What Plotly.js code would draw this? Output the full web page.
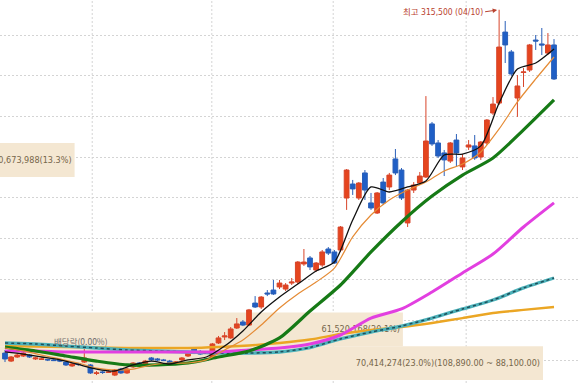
<!DOCTYPE html>
<html>
<head>
<meta charset="utf-8">
<script src="https://cdn.plot.ly/plotly-3.0.1.min.js"></script>
<style>html,body{margin:0;padding:0;background:#fff;}#chart{width:580px;height:383px;}</style>
</head>
<body>
<div id="chart"></div>
<script>
// trading-day sequence (x categories)
const day = [0,1,2,3,4,5,6,7,8,9,10,11,12,13,14,15,16,17,18,19,20,21,22,23,24,25,26,27,28,29,30,31,32,33,34,35,36,37,38,39,40,41,42,43,44,45,46,47,48,49,50,51,52,53,54,55,56,57,58,59,60,61,62,63,64,65,66,67,68,69,70,71,72,73,74,75,76,77,78,79,80,81,82,83,84,85,86,87,88,89,90];

const open = [104700,99800,102300,102900,103500,101100,100800,100800,100500,100500,
  99200,96800,98000,99200,97400,92200,93100,92800,91200,94900,
  92500,96200,98600,98000,101700,101100,100500,99800,98600,100500,
  102900,107200,105400,101100,101700,110900,114600,114000,120100,123800,
  121900,135400,133000,141600,143400,145300,144000,147700,148300,159400,
  163100,155700,158800,168600,166800,168000,199900,208500,199900,215300,
  196900,190700,209700,206700,223900,217100,184600,204800,209100,212800,
  245400,233700,227600,222600,235500,219000,231200,231900,225100,233700,
  252100,258200,301800,289600,261300,277000,278500,296900,294500,288900,
  293900];
const high = [106600,102900,104700,106600,104100,102300,101700,101100,101100,101100,
  99800,98600,98600,108400,98000,93700,93700,94300,94900,95500,
  95500,99200,99200,100500,102300,101700,101100,100500,99800,102300,
  106000,108400,106600,101700,110900,115200,117600,120700,126200,125000,
  131800,139700,139700,143400,149600,149600,147700,150800,161200,168600,
  164300,160600,168000,169800,168000,182700,217700,211000,209700,217100,
  203000,203600,212200,215300,230000,218300,205400,209700,215900,262500,
  246600,235500,229400,234300,239200,226900,235500,238600,234900,248400,
  261900,315500,308600,290800,275400,279700,294500,300000,304300,301200,
  297500];
const low = [99200,99200,101700,102300,101700,100500,100500,99800,99800,99200,
  96800,96200,96800,98600,91900,91200,91900,92500,90600,91900,
  91900,95500,96200,97400,99800,99800,99800,98000,98000,99800,
  102300,104100,103500,99800,101100,110300,112700,113400,119500,121300,
  121300,132400,131800,139700,140400,144000,142800,146500,147100,158200,
  155700,154500,157600,164900,159400,166800,192600,201800,198700,198700,
  192600,190100,195600,204800,214000,198700,182100,203000,207900,212200,
  231900,224500,213400,221400,219000,217100,229400,223300,223300,232500,
  250900,257000,282800,274800,249700,268100,277300,290800,287700,287700,
  272400];
const close = [101100,102300,103500,104700,102300,101700,101100,100500,100100,99800,
  97400,98000,97700,101700,92500,92500,92800,93100,94300,92500,
  94900,98600,96800,99800,100500,100500,100100,98600,99200,101700,
  104700,104700,104100,100500,110300,114000,115200,119500,122600,121900,
  131200,133000,139100,141000,141000,147700,146500,148300,160600,160600,
  157600,160000,166800,166100,160000,182100,217100,205500,209100,204800,
  193800,203000,196900,214000,215300,199900,204800,207900,213400,234900,
  233100,225700,223300,233700,227600,224500,232500,224500,234300,247800,
  257600,292600,293900,276100,268700,277300,293900,296300,293900,293900,
  273000];

// moving averages
const maShortDay = [0,3,6,9,12,15,18,21,24,27,30,33,36,39,42,45,48,51,54,57,60,63,66,69,72,75,78,81,84,87,90];
const ma5  = [105400,104100,102300,100500,97700,94900,93700,97400,99800,98000,100500,102300,109000,118300,129900,139100,147100,155100,160600,186400,206700,203600,206700,210400,226300,226900,231900,258200,279100,282800,291400];
const ma10 = [107800,106000,103500,101100,98600,95500,94300,94900,97400,98600,98600,100500,106600,112700,121900,132400,141000,148300,156900,176000,189500,198700,204800,209700,216500,220800,228200,242300,258900,273000,286500];
const maLongDay = [0,5,10,15,20,25,30,35,40,45,50,55,60,65,70,75,80,85,90];
const ma20  = [108400,106000,102900,99800,97400,97400,98600,102300,106000,114000,130500,146500,166800,185200,201100,214000,224500,241700,260100];
const ma60  = [106000,106000,105400,105400,105400,105400,105400,105400,106600,107800,110300,115800,126200,131800,142200,153900,165500,182100,196900];
const ma120 = [110900,110300,109000,107800,106600,106000,105400,104700,104700,105400,108100,113400,117600,121300,126200,131800,137300,144700,150800];
const ma240 = [109000,108700,108400,108100,107800,107800,107800,108400,109400,110900,113000,116400,118900,120700,123200,126200,129300,131200,133000];

// volume profile (price-by-volume) bins
const vpLow    = [88100, 108890, 212840];
const vpHigh   = [108890, 129680, 233630];
const vpVolume = [70414274, 61520168, 40673988];
const vpShare  = ['23.0', '20.1', '13.3'];

const peakLabel = '최고 315,500 (04/10)';
const exDivLabel = '배당락(0.00%)';

// vertical grid positions (between trading days)
const vGrid = [14.3, 33.9, 53.8, 75.6];

const fmt = v => v.toLocaleString('en-US');
const vpText = vpVolume.map((v, i) => fmt(v) + '(' + vpShare[i] + '%)' +
  (i === 0 ? '(' + fmt(vpHigh[i]) + '.00 ~ ' + fmt(vpLow[i]) + '.00)' : ''));

const narrow = '"Liberation Sans Narrow", "Arial Narrow", "DejaVu Sans Condensed", "Liberation Sans", "Noto Sans CJK KR", sans-serif';

const traces = [];
traces.push({
  type: 'bar', orientation: 'h', xaxis: 'x', yaxis: 'y',
  y: vpLow.map((l, i) => (l + vpHigh[i]) / 2),
  width: vpLow.map((l, i) => vpHigh[i] - l),
  x: vpVolume, base: 0,
  marker: {color: '#F4E7D2', line: {width: 0}},
  text: vpText, textposition: 'inside', insidetextanchor: 'end', textangle: 0,
  constraintext: 'none',
  insidetextfont: {family: narrow, size: 9, color: '#76664A'},
  hoverinfo: 'skip'
});
traces.push({
  type: 'candlestick', xaxis: 'x2', yaxis: 'y',
  x: day, open: open, high: high, low: low, close: close,
  increasing: {line: {color: '#D8452A', width: 1}, fillcolor: '#E5451E'},
  decreasing: {line: {color: '#2A5FB8', width: 1}, fillcolor: '#1F5FC6'},
  hoverinfo: 'skip'
});
function ma(xs, ys, color, width, dash) {
  return {type: 'scatter', mode: 'lines', xaxis: 'x2', yaxis: 'y', x: xs, y: ys,
    line: {color: color, width: width, shape: 'spline', smoothing: 0.7, dash: dash || 'solid'},
    hoverinfo: 'skip'};
}
traces.push(ma(maLongDay, ma240, '#EBA624', 2.4));
traces.push(ma(maLongDay, ma120, '#4DB2BA', 3.4));
traces.push(ma(maLongDay, ma120, '#1E4F5A', 1.5, 'dot'));
traces.push(ma(maLongDay, ma60, '#E23FE0', 3));
traces.push(ma(maLongDay, ma20, '#167A16', 3.2));
traces.push(ma(maShortDay, ma10, '#E58B35', 1.2));
traces.push(ma(maShortDay, ma5, '#111111', 1.3));

const axisBase = {zeroline: false, showline: false, ticks: '', showticklabels: false, fixedrange: true};

const layout = {
  width: 580, height: 383, margin: {l: 0, r: 0, t: 0, b: 0},
  paper_bgcolor: '#ffffff', plot_bgcolor: '#ffffff', showlegend: false,
  font: {family: narrow},
  boxgap: 0.22, boxgroupgap: 0,
  xaxis: {range: [35937600, 72764000], visible: false, fixedrange: true},
  xaxis2: Object.assign({}, axisBase, {overlaying: 'x', range: [-0.82, 94.26],
    showgrid: false, rangeslider: {visible: false}}),
  yaxis: Object.assign({}, axisBase, {range: [86330, 321490], showgrid: true,
    gridcolor: '#D4D4D4', griddash: '2px,2px', gridwidth: 1,
    tickvals: [100000, 125000, 150000, 175000, 200000, 225000, 250000, 275000, 300000]}),
  shapes: vGrid.map(g => ({type: 'line', layer: 'below', xref: 'x2', yref: 'paper',
    x0: g, x1: g, y0: 0, y1: 1, line: {color: '#D4D4D4', width: 1, dash: '2px,2px'}})),
  annotations: [
    {xref: 'x2', yref: 'y', x: day[81], y: high[81], text: peakLabel,
     showarrow: true, ax: -14, ay: 2, arrowhead: 2, arrowsize: 0.9, arrowwidth: 1,
     arrowcolor: '#B9422F', standoff: 2, xanchor: 'right',
     font: {family: narrow, size: 8.5, color: '#B9422F'}},
    {xref: 'x2', yref: 'y', x: day[13], y: high[13], text: exDivLabel,
     showarrow: false, yanchor: 'bottom', xshift: -3, yshift: -2,
     font: {family: '"Noto Sans CJK KR", sans-serif', size: 8.5, color: '#6E6E6E'}}
  ]
};

Plotly.newPlot('chart', traces, layout, {displayModeBar: false, staticPlot: true});
</script>
</body>
</html>
